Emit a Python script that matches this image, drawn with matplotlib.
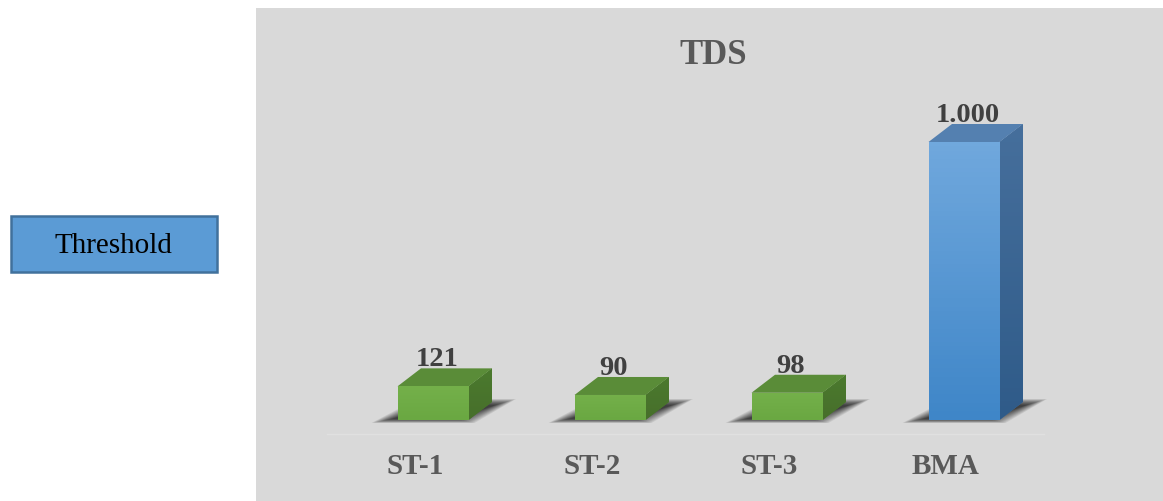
import numpy as np
import matplotlib
matplotlib.use("Agg")
import matplotlib.pyplot as plt
from matplotlib.patches import Polygon, Rectangle
from matplotlib.colors import LinearSegmentedColormap

# ---- data ----
categories = ["ST-1", "ST-2", "ST-3", "BMA"]
values = [121, 90, 98, 1000]
value_labels = ["121", "90", "98", "1.000"]
is_threshold = [False, False, False, True]
title = "TDS"
legend_label = "Threshold"

plt.rcParams["font.family"] = ["Liberation Serif", "DejaVu Serif"]

W, H = 1163, 502
fig = plt.figure(figsize=(W / 100, H / 100), dpi=100)
fig.patch.set_facecolor("white")

# panel axes
pl, pt = 256, 9
ax = fig.add_axes([pl / W, 0, (W - pl) / W, (H - pt) / H])
ax.set_facecolor("#d9d9d9")
for s in ax.spines.values():
    s.set_visible(False)
ax.set_xticks([]); ax.set_yticks([])

px_x = 1 / 177.0          # x units per pixel
px_y = 1000 / 278.0       # y units per pixel
base_px = 421
ax.set_xlim(-(433 - pl) * px_x, -(433 - pl) * px_x + (W - pl) * px_x)
ax.set_ylim(-(H - base_px) * px_y, (base_px - pt) * px_y)

hw = 35.5 * px_x
dx = 23.5 * px_x
dy = 18 * px_y

# faint floor line
ax.plot([-0.6, 3.45], [-14 * px_y, -14 * px_y], color="#e0e0e0", lw=1.0, zorder=1)

green = dict(front_top="#74b04a", front_bot="#6aa842", top="#5a8c38", side="#4b7a2e",
             side_bot="#476f2b")
blue = dict(front_top="#70a8dd", front_bot="#3f86c8", top="#5480b0", side="#466f9c",
            side_bot="#2f5b89")

for i, (cat, v, lab, thr) in enumerate(zip(categories, values, value_labels, is_threshold)):
    c = blue if thr else green
    x0, x1 = i - hw, i + hw
    # soft shadow on the floor: layered parallelograms shrinking inward
    N = 14
    for k in range(N):
        s = k * 1.6  # shrink in px
        pts = [(x0 - (26 - s) * px_x, -(3 - s * 0.2) * px_y),
               (x1 + (6 - s) * px_x, -(3 - s * 0.2) * px_y),
               (x1 + dx + (24 - s) * px_x, dy + (3 - s * 0.3) * px_y),
               (x0 + dx - (4 - s) * px_x, dy + (3 - s * 0.3) * px_y)]
        ax.add_patch(Polygon(pts, closed=True, facecolor="black", edgecolor="none",
                             alpha=0.08, zorder=2))
    # side face
    side = Polygon([(x1, 0), (x1 + dx, dy), (x1 + dx, v + dy), (x1, v)], closed=True,
                   facecolor=c["side"], edgecolor="none", zorder=3)
    ax.add_patch(side)
    grad_s = np.linspace(0, 1, 64)[:, None]
    cm_s = LinearSegmentedColormap.from_list("s", [c["side"], c["side_bot"]])
    im = ax.imshow(grad_s, extent=(x1, x1 + dx, 0, v + dy), aspect="auto", cmap=cm_s,
                   origin="upper", zorder=3)
    im.set_clip_path(side)
    # top face
    top = Polygon([(x0, v), (x1, v), (x1 + dx, v + dy), (x0 + dx, v + dy)], closed=True,
                  facecolor=c["top"], edgecolor="none", zorder=4)
    ax.add_patch(top)
    # front face with gradient
    front = Rectangle((x0, 0), 2 * hw, v, facecolor=c["front_top"], edgecolor="none", zorder=4)
    ax.add_patch(front)
    cm_f = LinearSegmentedColormap.from_list("f", [c["front_top"], c["front_bot"]])
    imf = ax.imshow(grad_s, extent=(x0, x1, 0, v), aspect="auto", cmap=cm_f,
                    origin="upper", zorder=4)
    imf.set_clip_path(front)
    # value label
    ax.text(i + 4 * px_x, v + dy + 3 * px_y, lab, ha="center", va="baseline",
            fontsize=20.5, fontweight="bold", color="#404040", zorder=6)
    # category label
    ax.text(i - 18 * px_x, -46 * px_y, cat, ha="center", va="center",
            fontsize=21, fontweight="bold", color="#595959", zorder=6)

ax.text((713 - 433) * px_x, (base_px - 56) * px_y, title, ha="center", va="center",
        fontsize=25, fontweight="bold", color="#595959", zorder=6)

# legend box
fig.patches.append(Rectangle((11 / W, 1 - 273 / H), 206 / W, 56 / H, transform=fig.transFigure,
                             facecolor="#5b9bd5", edgecolor="#41719c", linewidth=1.8))
fig.text(113 / W, 1 - 246 / H, legend_label, ha="center", va="center", fontsize=21,
         color="black")

fig.savefig("out.png", dpi=100)
